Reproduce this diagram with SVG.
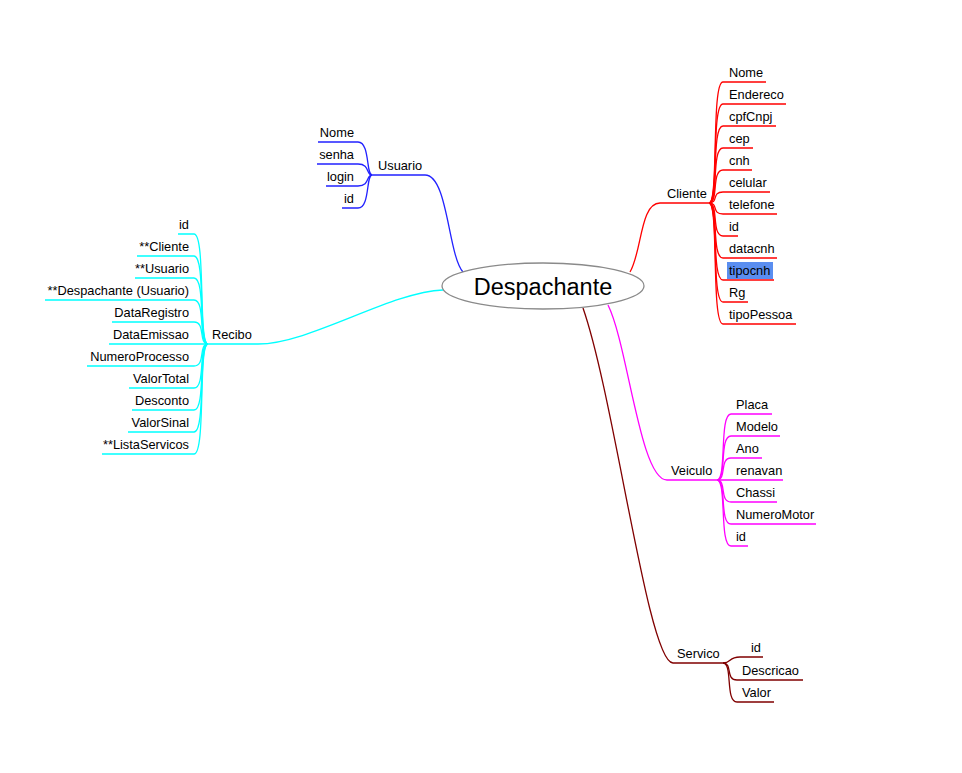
<svg xmlns="http://www.w3.org/2000/svg" width="962" height="773" viewBox="0 0 962 773">
<style>
text{font-family:"Liberation Sans",Arial,sans-serif;font-size:12.8px;fill:#000}
.l{fill:none;stroke-width:1.3}
.u{stroke:#2222ff}.c{stroke:#ff0000}.r{stroke:#00ffff}.v{stroke:#ff00ff}.s{stroke:#800000}
.e{text-anchor:end}
</style>
<rect width="962" height="773" fill="#fff"/>
<g id="connectors">
<path class="l u" d="M372,175 H425 C448,175 448,255 463,272"/>
<path class="l c" d="M630,272 C642,252 640,203 660,203 H709"/>
<path class="l r" d="M208,344 H258 C310,344 390,292 443,290"/>
<path class="l v" d="M608,305 C628,345 640,480 667,480 H717"/>
<path class="l s" d="M583,308 C615,400 648,663 673,663 H723"/>
<!-- Usuario children -->
<path class="l u" d="M372,175 C366,175 370,142 358,142 H318"/>
<path class="l u" d="M372,175 C366,175 370,164 358,164 H317"/>
<path class="l u" d="M372,175 C366,175 370,186 358,186 H326"/>
<path class="l u" d="M372,175 C366,175 370,208 358,208 H342"/>
<!-- Cliente children -->
<path class="l c" d="M709,203 C719,203 711,82 723,82 H766"/>
<path class="l c" d="M709,203 C719,203 711,104 723,104 H786"/>
<path class="l c" d="M709,203 C719,203 711,126 723,126 H776"/>
<path class="l c" d="M709,203 C719,203 711,148 723,148 H753"/>
<path class="l c" d="M709,203 C719,203 711,170 723,170 H752"/>
<path class="l c" d="M709,203 C719,203 711,192 723,192 H770"/>
<path class="l c" d="M709,203 C719,203 711,214 723,214 H777"/>
<path class="l c" d="M709,203 C719,203 711,236 723,236 H738"/>
<path class="l c" d="M709,203 C719,203 711,258 723,258 H777"/>
<path class="l c" d="M709,203 C719,203 711,280 723,280 H774"/>
<path class="l c" d="M709,203 C719,203 711,302 723,302 H748"/>
<path class="l c" d="M709,203 C719,203 711,324 723,324 H796"/>
<!-- Recibo children -->
<path class="l r" d="M208,344 C198,344 206,234 194,234 H178"/>
<path class="l r" d="M208,344 C198,344 206,256 194,256 H137"/>
<path class="l r" d="M208,344 C198,344 206,278 194,278 H135"/>
<path class="l r" d="M208,344 C198,344 206,300 194,300 H45"/>
<path class="l r" d="M208,344 C198,344 206,322 194,322 H112"/>
<path class="l r" d="M208,344 H109"/>
<path class="l r" d="M208,344 C198,344 206,366 194,366 H87"/>
<path class="l r" d="M208,344 C198,344 206,388 194,388 H129"/>
<path class="l r" d="M208,344 C198,344 206,410 194,410 H132"/>
<path class="l r" d="M208,344 C198,344 206,432 194,432 H128"/>
<path class="l r" d="M208,344 C198,344 206,454 194,454 H102"/>
<!-- Veiculo children -->
<path class="l v" d="M717,480 C727,480 719,414 731,414 H772"/>
<path class="l v" d="M717,480 C727,480 719,436 731,436 H780"/>
<path class="l v" d="M717,480 C727,480 719,458 731,458 H762"/>
<path class="l v" d="M717,480 H783"/>
<path class="l v" d="M717,480 C727,480 719,502 731,502 H777"/>
<path class="l v" d="M717,480 C727,480 719,524 731,524 H816"/>
<path class="l v" d="M717,480 C727,480 719,546 731,546 H748"/>
<!-- Servico children -->
<path class="l s" d="M723,663 C732,663 728,657 740,657 H763"/>
<path class="l s" d="M723,663 C733,663 725,680 737,680 H803"/>
<path class="l s" d="M723,663 C733,663 725,702 737,702 H774"/>
</g>
<g id="despachante">
<ellipse cx="543" cy="286" rx="101" ry="23" fill="#fff" stroke="#8a8a8a" stroke-width="1.3"/>
<text x="543" y="295" text-anchor="middle" style="font-size:23.5px">Despachante</text>
</g>
<g id="usuario">
<text x="378" y="170">Usuario</text>
<text class="e" x="354" y="137">Nome</text>
<text class="e" x="354" y="159">senha</text>
<text class="e" x="354" y="181">login</text>
<text class="e" x="354" y="203">id</text>
</g>
<g id="cliente">
<text x="667" y="198">Cliente</text>
<text x="729" y="77">Nome</text>
<text x="729" y="99">Endereco</text>
<text x="729" y="121">cpfCnpj</text>
<text x="729" y="143">cep</text>
<text x="729" y="165">cnh</text>
<text x="729" y="187">celular</text>
<text x="729" y="209">telefone</text>
<text x="729" y="231">id</text>
<text x="729" y="253">datacnh</text>
<rect x="727" y="262" width="46" height="17" fill="#5a8ef0"/>
<text x="729" y="275">tipocnh</text>
<text x="729" y="297">Rg</text>
<text x="729" y="319">tipoPessoa</text>
</g>
<g id="recibo">
<text x="212" y="339">Recibo</text>
<text class="e" x="189" y="229">id</text>
<text class="e" x="189" y="251">**Cliente</text>
<text class="e" x="189" y="273">**Usuario</text>
<text class="e" x="189" y="295">**Despachante (Usuario)</text>
<text class="e" x="189" y="317">DataRegistro</text>
<text class="e" x="189" y="339">DataEmissao</text>
<text class="e" x="189" y="361">NumeroProcesso</text>
<text class="e" x="189" y="383">ValorTotal</text>
<text class="e" x="189" y="405">Desconto</text>
<text class="e" x="189" y="427">ValorSinal</text>
<text class="e" x="189" y="449">**ListaServicos</text>
</g>
<g id="veiculo">
<text x="671" y="475">Veiculo</text>
<text x="736" y="409">Placa</text>
<text x="736" y="431">Modelo</text>
<text x="736" y="453">Ano</text>
<text x="736" y="475">renavan</text>
<text x="736" y="497">Chassi</text>
<text x="736" y="519">NumeroMotor</text>
<text x="736" y="541">id</text>
</g>
<g id="servico">
<text x="677" y="658">Servico</text>
<text x="751" y="652">id</text>
<text x="742" y="675">Descricao</text>
<text x="742" y="697">Valor</text>
</g>
</svg>
